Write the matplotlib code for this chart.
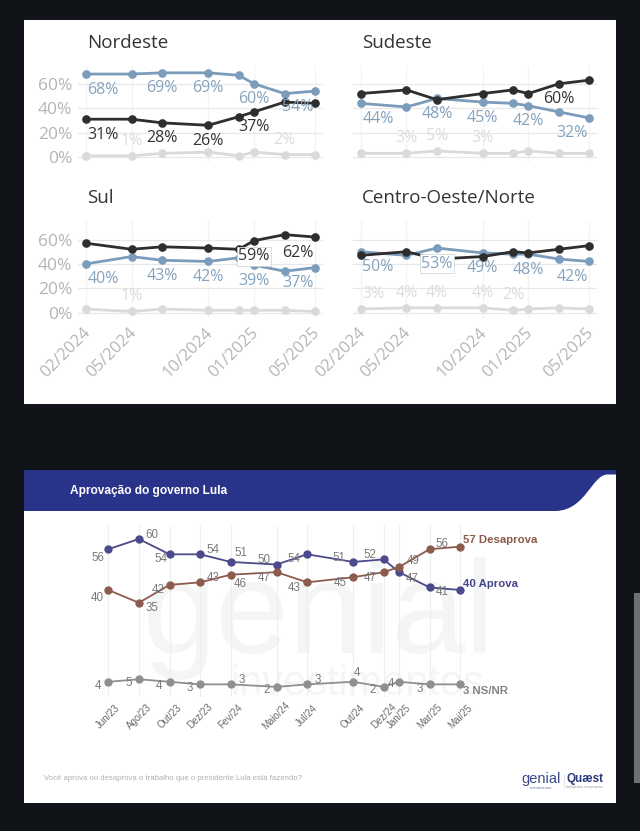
import matplotlib
matplotlib.use("Agg")
import matplotlib.pyplot as plt
import numpy as np
import pandas as pd
from matplotlib.patches import Rectangle, PathPatch
from matplotlib.path import Path
from matplotlib.transforms import ScaledTranslation

# ---------------- Data: regional chart ----------------
region_dates = ["2024-02", "2024-05", "2024-07", "2024-10", "2024-12", "2025-01", "2025-03", "2025-05"]
region_tick_dates = ["2024-02", "2024-05", "2024-10", "2025-01", "2025-05"]
region_tick_labels = ["02/2024", "05/2024", "10/2024", "01/2025", "05/2025"]
region_yticks = [0, 20, 40, 60]
region_names = ["Nordeste", "Sudeste", "Sul", "Centro-Oeste/Norte"]

nordeste_aprova = [68, 68, 69, 69, 67, 60, 52, 54]
nordeste_desaprova = [31, 31, 28, 26, 33, 37, 45, 44]
nordeste_nsnr = [1, 1, 3, 4, 1, 4, 2, 2]

sudeste_aprova = [44, 41, 48, 45, 44, 42, 37, 32]
sudeste_desaprova = [52, 55, 47, 52, 55, 52, 60, 63]
sudeste_nsnr = [3, 3, 5, 3, 3, 5, 3, 3]

sul_aprova = [40, 46, 43, 42, 45, 39, 34, 37]
sul_desaprova = [57, 52, 54, 53, 52, 59, 64, 62]
sul_nsnr = [3, 1, 3, 2, 2, 2, 2, 1]

co_aprova = [50, 47, 53, 49, 48, 48, 44, 42]
co_desaprova = [47, 50, 44, 46, 50, 49, 52, 55]
co_nsnr = [3, 4, 4, 4, 2, 3, 4, 3]

# indices of points that carry a value label
nordeste_lbl = {"aprova": [0, 2, 3, 5, 7], "desaprova": [0, 2, 3, 5], "nsnr": [1, 6]}
sudeste_lbl = {"aprova": [0, 2, 3, 5, 7], "desaprova": [6], "nsnr": [1, 2, 3]}
sul_lbl = {"aprova": [0, 2, 3, 5, 7], "desaprova": [5, 7], "nsnr": [1]}
co_lbl = {"aprova": [0, 2, 3, 5, 7], "desaprova": [], "nsnr": [0, 1, 2, 3, 4]}

# ---------------- Data: Lula approval chart ----------------
lula_dates = ["2023-06", "2023-08", "2023-10", "2023-12", "2024-02", "2024-05",
              "2024-07", "2024-10", "2024-12", "2025-01", "2025-03", "2025-05"]
lula_tick_labels = ["Jun/23", "Ago/23", "Out/23", "Dez/23", "Fev/24", "Maio/24",
                    "Jul/24", "Out/24", "Dez/24", "Jan/25", "Mar/25", "Mai/25"]
lula_aprova = [56, 60, 54, 54, 51, 50, 54, 51, 52, 47, 41, 40]
lula_desaprova = [40, 35, 42, 43, 46, 47, 43, 45, 47, 49, 56, 57]
lula_nsnr = [4, 5, 4, 3, 3, 2, 3, 4, 2, 4, 3, 3]
lula_series_names = ["Aprova", "Desaprova", "NS/NR"]

# ---------------- Styling ----------------
W, H = 640, 831
BG = "#101418"
C_BLACK = "#2e2e2e"
C_BLUE = "#7b9cba"
C_BLUE_TXT = "#86a3be"
C_GRAY = "#dadada"
C_GRAY_TXT = "#dcdcdc"
TOP_FONT = ["Open Sans", "DejaVu Sans"]
BOT_FONT = ["Liberation Sans", "DejaVu Sans"]

fig = plt.figure(figsize=(W / 100, H / 100), dpi=100, facecolor=BG)


def ax_px(l, r, t, b, **kw):
    return fig.add_axes([l / W, 1 - b / H, (r - l) / W, (b - t) / H], **kw)


# background axes in pixel coordinates
bg = fig.add_axes([0, 0, 1, 1], zorder=-5)
bg.set_xlim(0, W)
bg.set_ylim(H, 0)
bg.axis("off")
bg.add_patch(Rectangle((24, 20), 592, 384, fc="white", ec="none"))
bg.add_patch(Rectangle((24, 470), 592, 333, fc="white", ec="none"))
verts = [(24, 470), (616, 470), (616, 474.5), (608, 474.5),
         (592, 474), (586, 510), (556, 511), (24, 511), (24, 470)]
codes = [Path.MOVETO, Path.LINETO, Path.LINETO, Path.LINETO,
         Path.CURVE4, Path.CURVE4, Path.CURVE4, Path.LINETO, Path.CLOSEPOLY]
bg.add_patch(PathPatch(Path(verts, codes), fc="#29338a", ec="none"))
bg.add_patch(Rectangle((634, 593), 6, 190, fc="#6c6f73", ec="none"))

# watermark
bg.text(143, 653, "genial", fontsize=95, color="#f4f5f5", family=BOT_FONT,
        ha="left", va="baseline", zorder=2)
bg.text(230, 684, "investimentos", fontsize=30, color="#f4f5f5", family=BOT_FONT,
        ha="left", va="center", zorder=2)

# ---------------- Regional small multiples ----------------
rd = pd.to_datetime(region_dates)
rx = np.asarray((rd.year - rd.year[0]) * 12 + rd.month - rd.month[0], dtype=float)
td = pd.to_datetime(region_tick_dates)
tx = np.asarray((td.year - rd.year[0]) * 12 + td.month - rd.month[0], dtype=float)

cols = [(78.05, 322.85), (353.1, 596.9)]
rows = [(65.5, 161.9), (221.2, 317.6)]
title_pos = [(87, 43.3), (362, 43.3), (87, 198.3), (362, 198.3)]

region_data = [
    (nordeste_aprova, nordeste_desaprova, nordeste_nsnr, nordeste_lbl),
    (sudeste_aprova, sudeste_desaprova, sudeste_nsnr, sudeste_lbl),
    (sul_aprova, sul_desaprova, sul_nsnr, sul_lbl),
    (co_aprova, co_desaprova, co_nsnr, co_lbl),
]
boxed = {(2, "desaprova", 5), (3, "aprova", 2)}

for i, (name, (ap, de, ns, lbl)) in enumerate(zip(region_names, region_data)):
    r, c = divmod(i, 2)
    ax = ax_px(cols[c][0], cols[c][1], rows[r][0], rows[r][1])
    ax.set_xlim(-0.5, 15.5)
    ax.set_ylim(-4, 75)
    ax.patch.set_visible(False)
    for s in ax.spines.values():
        s.set_visible(False)
    ax.set_yticks(region_yticks)
    ax.set_xticks(tx)
    ax.grid(axis="y", color="#e8e8e8", lw=0.9)
    ax.grid(axis="x", color="#f3f3f3", lw=0.9)
    ax.set_axisbelow(True)
    ax.tick_params(length=0)
    if c == 0:
        ax.set_yticklabels([f"{v}%" for v in region_yticks], fontsize=12.5,
                           color="#b5b5b5", family=TOP_FONT)
        ax.tick_params(axis="y", pad=4.3)
    else:
        ax.set_yticklabels([])
    if r == 1:
        ax.set_xticklabels(region_tick_labels, fontsize=12, color="#b5b5b5",
                           family=TOP_FONT, rotation=45, ha="right", va="top",
                           rotation_mode="anchor")
        ax.tick_params(axis="x", pad=5.3)
        off = ScaledTranslation(-3.5 / 100, 0, fig.dpi_scale_trans)
        for t in ax.get_xticklabels():
            t.set_transform(t.get_transform() + off)
    else:
        ax.set_xticklabels([])

    bg.text(title_pos[i][0], title_pos[i][1], name, fontsize=13.5, color="#333333",
            family=TOP_FONT, ha="left", va="center")

    series = [("nsnr", ns, C_GRAY, C_GRAY_TXT, 15),
              ("aprova", ap, C_BLUE, C_BLUE_TXT, -15.5),
              ("desaprova", de, C_BLACK, "#333333", -15.5)]
    for z, (key, vals, col, tcol, dy) in enumerate(series):
        ax.plot(rx, vals, color=col, lw=2.0, marker="o", ms=5.2,
                solid_joinstyle="round", clip_on=False, zorder=3 + z)
    for z, (key, vals, col, tcol, dy) in enumerate(series):
        for k in lbl[key]:
            if k == 0:
                ha, dx = "left", 1.5
            elif k == len(vals) - 1:
                ha, dx = "right", -1.5
            else:
                ha, dx = "center", 0
            kw = {}
            if (i, key, k) in boxed:
                kw["bbox"] = dict(boxstyle="square,pad=0.08", fc="white",
                                  ec="#d0d0d0", lw=0.5)
            ax.annotate(f"{vals[k]}%", (rx[k], vals[k]), xytext=(dx, dy),
                        textcoords="offset pixels", ha=ha, va="center",
                        fontsize=11.5, color=tcol, family=TOP_FONT,
                        zorder=10, annotation_clip=False, **kw)

# ---------------- Lula approval chart ----------------
bg.text(70.5, 491, "Aprovação do governo Lula", fontsize=8.6, fontweight="bold",
        color="white", family=BOT_FONT, ha="left", va="center")

ld = pd.to_datetime(lula_dates)
lx = np.asarray((ld.year - ld.year[0]) * 12 + ld.month - ld.month[0], dtype=float)

axl = ax_px(93.0, 475.5, 526.25, 697.1)
axl.set_xlim(-1, 24)
axl.set_ylim(-2, 65)
axl.patch.set_visible(False)
for s in axl.spines.values():
    s.set_visible(False)
axl.set_yticks([])
axl.set_xticks(lx)
axl.grid(axis="x", color="#eeeeee", lw=0.8)
axl.set_axisbelow(True)
axl.tick_params(length=0)
axl.set_xticklabels(lula_tick_labels, fontsize=7, color="#6a6a6a", family=BOT_FONT,
                    rotation=45, ha="center", va="center")
axl.tick_params(axis="x", pad=13.7)

lula_colors = ["#4a4a8c", "#8d5b4e", "#8f8f8f"]
lula_end_colors = ["#45458a", "#8b5a4c", "#858585"]
aprova_off = [(-10, 9), (12.7, -4.3), (-8.3, 5), (12.7, -4.3), (10, -9), (-12.7, -4.3),
              (-13.3, 5), (-14, -4.3), (-13.3, -4.3), (13.3, 7.3), (12.3, 5), (2.5, -5.7)]
desaprova_off = [(-11, 8), (12.7, 5), (-11, 5), (12.7, -4.3), (10, 9.7), (-12.7, 5.7),
                 (-13.3, 5.7), (-13.3, 5.3), (-13.3, 5.7), (14, -5.7), (12.3, -5), (3, -6.7)]
nsnr_off = [(-10, 4), (-9.7, 4), (-10, 3.7), (-10, 3.3), (10.7, -4), (-10, 2.7),
            (10.7, -4), (4, -9), (-10.7, 2.7), (-7.7, 1.7), (-10, 4.3), (2.5, 6.7)]

for vals, col, ecol, offs, nm in zip([lula_aprova, lula_desaprova, lula_nsnr],
                                     lula_colors, lula_end_colors,
                                     [aprova_off, desaprova_off, nsnr_off],
                                     lula_series_names):
    axl.plot(lx, vals, color=col, lw=1.3, marker="o", ms=5, clip_on=False, zorder=3)
    n = len(vals)
    for k in range(n):
        dx, dy = offs[k]
        if k == n - 1:
            axl.annotate(f"{vals[k]} {nm}", (lx[k], vals[k]), xytext=(dx, -dy),
                         textcoords="offset pixels", ha="left", va="center",
                         fontsize=8.2, fontweight="bold", color=ecol,
                         family=BOT_FONT, annotation_clip=False, zorder=5)
        else:
            axl.annotate(f"{vals[k]}", (lx[k], vals[k]), xytext=(dx, -dy),
                         textcoords="offset pixels", ha="center", va="center",
                         fontsize=8.3, color="#7a7a7a", family=BOT_FONT,
                         annotation_clip=False, zorder=5)

# footer and logos
bg.text(44, 778, "Você aprova ou desaprova o trabalho que o presidente Lula está fazendo?",
        fontsize=5.6, color="#b0b0b0", family=BOT_FONT, ha="left", va="center")
bg.text(541, 779.5, "genial", fontsize=10.5, color="#3b4a8c", family=BOT_FONT,
        ha="center", va="center")
bg.text(541, 788, "investimentos", fontsize=2.6, color="#6a7aa8", family=BOT_FONT,
        ha="center", va="center")
bg.text(585, 779, "Quæst", fontsize=8.4, fontweight="bold", color="#2d3a7c",
        family=BOT_FONT, ha="center", va="center")
bg.text(585, 787, "inteligência em pesquisa", fontsize=2.4, color="#9a9a9a",
        family=BOT_FONT, ha="center", va="center")
bg.plot([563.5, 563.5], [774, 788], color="#d8d8d8", lw=0.5)

fig.savefig("out.png", dpi=100, facecolor=BG)
